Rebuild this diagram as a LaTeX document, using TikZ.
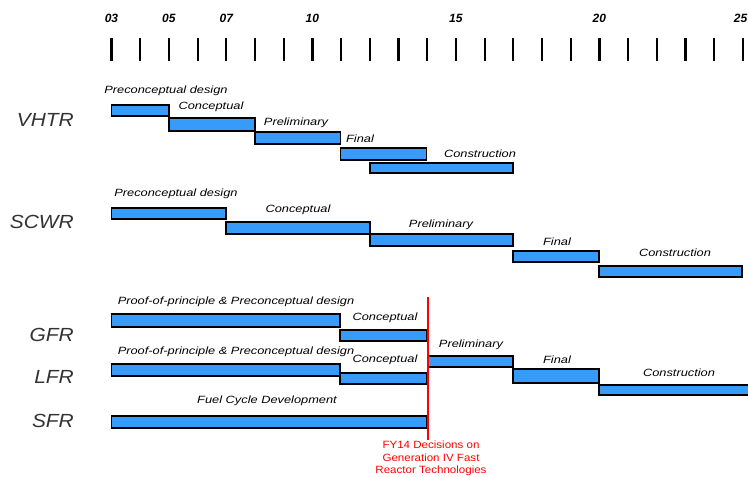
\documentclass[tikz,border=0pt]{standalone}
\usepackage{fontspec}
\setmainfont{Liberation Sans}
\newfontfamily\lblfont[FakeStretch=1.22]{Liberation Sans}
\newfontfamily\rowfont[FakeStretch=1.1]{Liberation Sans}
\newfontfamily\redfont[FakeStretch=1.1]{Liberation Sans}
\definecolor{barblue}{RGB}{55,155,250}
\tikzset{
  ganttbar/.style={draw=black, line width=1.9pt, fill=barblue},
  lbl/.style={font=\lblfont\itshape\fontsize{10.5}{12}\selectfont, inner sep=0pt, anchor=center},
  rowlbl/.style={font=\rowfont\itshape\fontsize{19}{22}\selectfont, text=black!80, inner sep=0pt, anchor=east},
  yrlbl/.style={font=\bfseries\itshape\fontsize{12}{14}\selectfont, inner sep=0pt},
  tickmark/.style={line width=2.2pt},
  redtxt/.style={font=\redfont\fontsize{10.5}{12.5}\selectfont, text=red, align=center, inner sep=0pt},
  decline/.style={draw=red, line width=1.8pt}
}
\begin{document}
\begin{tikzpicture}[x=1pt, y=-1pt]
\useasboundingbox[fill=white] (0,0) rectangle (748,477);

% ticks
\foreach \i in {0,...,22} {
  \draw[tickmark] ({111.5+\i*28.7},38) -- ({111.5+\i*28.7},61);
}
% year labels
\node[yrlbl] (y03) at (111.5,18.5) {03};
\node[yrlbl] (y05) at (168.9,18.5) {05};
\node[yrlbl] (y07) at (226.3,18.5) {07};
\node[yrlbl] (y10) at (312.4,18.5) {10};
\node[yrlbl] (y15) at (455.9,18.5) {15};
\node[yrlbl] (y20) at (599.4,18.5) {20};
\node[yrlbl, anchor=east] (y25) at (747.5,18.5) {25};

% row labels
\node[rowlbl] (vhtr) at (74,120) {VHTR};
\node[rowlbl] (scwr) at (74,222) {SCWR};
\node[rowlbl] (gfr) at (74,335) {GFR};
\node[rowlbl] (lfr) at (74,377) {LFR};
\node[rowlbl] (sfr) at (74,421) {SFR};

% VHTR bars
\draw[ganttbar] (111.5,105) rectangle (168.9,116);
\draw[ganttbar] (168.9,118) rectangle (255.0,131);
\draw[ganttbar] (255.0,132) rectangle (340.5,144);
\draw[ganttbar] (340.5,148) rectangle (426.5,160);
\draw[ganttbar] (369.8,163) rectangle (513.3,173);
\node[lbl] (v1) at (166,91) {Preconceptual design};
\node[lbl] (v2) at (211,107) {Conceptual};
\node[lbl] (v3) at (296,123) {Preliminary};
\node[lbl] (v4) at (360,138.5) {Final};
\node[lbl] (v5) at (480,154) {Construction};

% SCWR bars
\draw[ganttbar] (111.5,208) rectangle (226.3,219);
\draw[ganttbar] (226.3,222) rectangle (369.8,234);
\draw[ganttbar] (369.8,234) rectangle (513.3,246);
\draw[ganttbar] (513.3,251) rectangle (599.4,262);
\draw[ganttbar] (599.4,266) rectangle (742.0,277);
\node[lbl] (s1) at (176,193.5) {Preconceptual design};
\node[lbl] (s2) at (298,210) {Conceptual};
\node[lbl] (s3) at (441,225) {Preliminary};
\node[lbl] (s4) at (557,242) {Final};
\node[lbl] (s5) at (675,253) {Construction};

% GFR bars
\draw[ganttbar] (111.5,314) rectangle (340.0,327);
\draw[ganttbar] (340.0,330) rectangle (426.5,341);
\node[lbl] (g1) at (236,302) {Proof-of-principle \& Preconceptual design};
\node[lbl] (g2) at (385,318) {Conceptual};

% LFR bars
\draw[ganttbar] (111.5,364) rectangle (340.0,376);
\draw[ganttbar] (340.0,373) rectangle (426.5,384);
\draw[ganttbar] (428.5,356) rectangle (513.3,367);
\draw[ganttbar] (513.3,369) rectangle (599.4,383);
\draw[ganttbar] (599.4,385) rectangle (770,395);
\node[lbl] (l1) at (236,352) {Proof-of-principle \& Preconceptual design};
\node[lbl] (l2) at (385,360) {Conceptual};
\node[lbl] (l3) at (471,345) {Preliminary};
\node[lbl] (l4) at (557,360) {Final};
\node[lbl] (l5) at (679,373) {Construction};

% SFR bar
\draw[ganttbar] (111.5,416) rectangle (426.5,428);
\node[lbl] (f1) at (267,401) {Fuel Cycle Development};

% decision line
\coordinate (dtop) at (428,297);
\coordinate (dbot) at (428,440);
\draw[decline] (dtop) -- (dbot);
\node[redtxt] (dec) at (431,458.5) {FY14 Decisions on\\Generation IV Fast\\Reactor Technologies};
\end{tikzpicture}
\end{document}
